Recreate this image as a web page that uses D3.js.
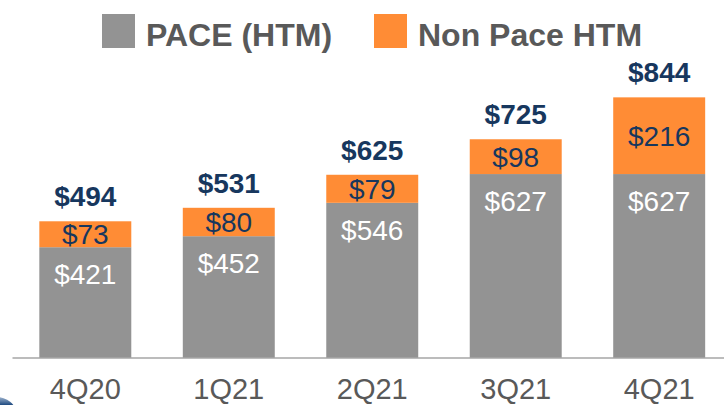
<!DOCTYPE html>
<html>
<head>
<meta charset="utf-8">
<script src="https://cdn.jsdelivr.net/npm/d3@7"></script>
<style>
  html, body { margin: 0; padding: 0; background: #ffffff; }
  svg { display: block; }
</style>
</head>
<body>
<svg id="chart" width="724" height="405"></svg>
<script>
const categories = ["4Q20", "1Q21", "2Q21", "3Q21", "4Q21"];
const paceValues = [421, 452, 546, 627, 627];
const nonPaceValues = [73, 80, 79, 98, 216];
const totalValues = [494, 531, 625, 725, 844];
const seriesNames = ["PACE (HTM)", "Non Pace HTM"];

const colors = { pace: "#939393", nonPace: "#FF8C35", navy: "#17375E", axisText: "#595959", axis: "#A6A6A6" };

const svg = d3.select("#chart");

const x = d3.scaleBand().domain(categories).range([13.5, 731]).paddingInner(0.359).paddingOuter(0.18);
const y = d3.scaleLinear().domain([109, 844]).range([358, 97]);

const data = categories.map((c, i) => ({ cat: c, pace: paceValues[i], non: nonPaceValues[i], total: totalValues[i] }));

// bars
const g = svg.append("g");
g.selectAll("rect.pace").data(data).join("rect")
  .attr("class", "pace")
  .attr("x", d => x(d.cat)).attr("width", x.bandwidth())
  .attr("y", d => y(d.pace)).attr("height", d => y(109) - y(d.pace))
  .attr("fill", colors.pace);
g.selectAll("rect.non").data(data).join("rect")
  .attr("class", "non")
  .attr("x", d => x(d.cat)).attr("width", x.bandwidth())
  .attr("y", d => y(d.pace + d.non)).attr("height", d => y(d.pace) - y(d.pace + d.non))
  .attr("fill", colors.nonPace);

// axis
const font = "Liberation Sans, Arial, sans-serif";
const xAxis = d3.axisBottom(x).tickSize(0).tickPadding(0);
const ax = svg.append("g").attr("transform", "translate(0,358)").call(xAxis);
ax.select(".domain").attr("d", "M12.5,0H724").attr("stroke", colors.axis).attr("stroke-width", 1.5);
ax.selectAll(".tick text")
  .attr("y", 41).attr("dy", null)
  .attr("font-family", font)
  .attr("font-size", 29).attr("fill", colors.axisText);

// labels
g.selectAll("text.pl").data(data).join("text")
  .attr("class", "pl")
  .attr("x", d => x(d.cat) + x.bandwidth() / 2)
  .attr("y", d => y(d.pace) + 37)
  .attr("text-anchor", "middle").attr("font-family", font).attr("font-size", 28)
  .attr("fill", "#ffffff").text(d => "$" + d.pace);
g.selectAll("text.nl").data(data).join("text")
  .attr("class", "nl")
  .attr("x", d => x(d.cat) + x.bandwidth() / 2)
  .attr("y", d => (y(d.pace) + y(d.pace + d.non)) / 2 + 10)
  .attr("text-anchor", "middle").attr("font-family", font).attr("font-size", 28)
  .attr("fill", colors.navy).text(d => "$" + d.non);
g.selectAll("text.tl").data(data).join("text")
  .attr("class", "tl")
  .attr("x", d => x(d.cat) + x.bandwidth() / 2)
  .attr("y", d => y(d.total) - 15)
  .attr("text-anchor", "middle").attr("font-family", font).attr("font-size", 28)
  .attr("font-weight", "bold")
  .attr("fill", colors.navy).text(d => "$" + d.total);

// legend
const legend = svg.append("g");
const legendItems = [
  { name: seriesNames[0], color: colors.pace, x: 102 },
  { name: seriesNames[1], color: colors.nonPace, x: 374 }
];
legendItems.forEach(it => {
  legend.append("rect").attr("x", it.x).attr("y", 14).attr("width", 33).attr("height", 34).attr("fill", it.color);
  legend.append("text").attr("x", it.x + 44).attr("y", 46)
    .attr("font-family", font).attr("font-size", 32).attr("font-weight", "bold")
    .attr("fill", colors.axisText).text(it.name);
});

// logo fragment bottom-left
const defs = svg.append("defs");
const grad = defs.append("linearGradient").attr("id", "logograd").attr("x1", 0).attr("y1", 0).attr("x2", 0).attr("y2", 1);
grad.append("stop").attr("offset", "0").attr("stop-color", "#9FB4CF");
grad.append("stop").attr("offset", "0.25").attr("stop-color", "#1E4A80");
grad.append("stop").attr("offset", "1").attr("stop-color", "#0D3566");
defs.append("clipPath").attr("id", "logoclip").append("rect").attr("x", 0).attr("y", 390).attr("width", 30).attr("height", 15);
svg.append("ellipse").attr("clip-path", "url(#logoclip)")
  .attr("cx", -4).attr("cy", 413).attr("rx", 20).attr("ry", 16).attr("fill", "url(#logograd)");
</script>
</body>
</html>
